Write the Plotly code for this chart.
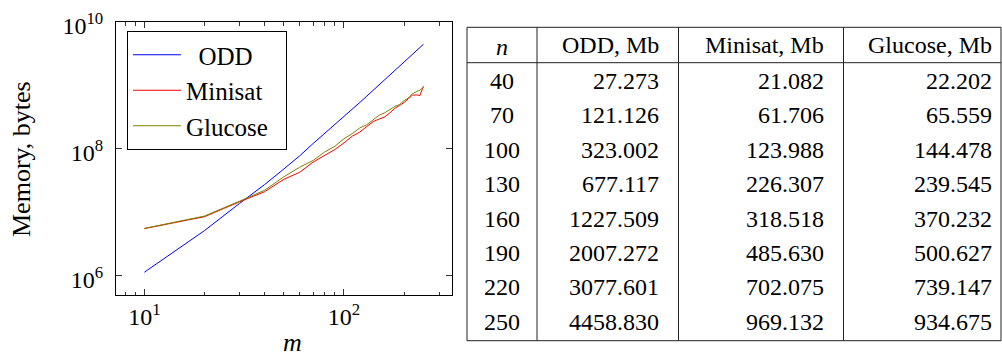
import plotly.graph_objects as go

# ---------------- data ----------------
m_vals = [10, 20, 30, 40, 50, 60, 70, 80, 90, 100, 110, 120, 130,
          140, 150, 160, 170, 180, 190, 200, 210, 220, 230, 240, 250]

odd_bytes = [1.132e6, 5.13e6, 1.38e7, 2.7273e7, 4.82e7, 7.76e7, 1.21126e8,
             1.742e8, 2.404e8, 3.23002e8, 4.217e8, 5.383e8, 6.77117e8,
             8.375e8, 1.021e9, 1.227509e9, 1.459e9, 1.718e9, 2.007272e9,
             2.328e9, 2.679e9, 3.077601e9, 3.499e9, 3.963e9, 4.45883e9]

minisat_bytes = [5.52e6, 8.51e6, 1.462e7, 2.1082e7, 3.31e7, 4.27e7, 6.1706e7,
                 7.76e7, 9.77e7, 1.23988e8, 1.585e8, 1.841e8, 2.26307e8,
                 2.692e8, 2.951e8, 3.18518e8, 3.715e8, 4.365e8, 4.8563e8,
                 5.37e8, 6.17e8, 7.02075e8, 7.08e8, 6.95e8, 9.69132e8]

glucose_bytes = [5.56e6, 8.71e6, 1.496e7, 2.2202e7, 3.63e7, 5.13e7, 6.5559e7,
                 8.91e7, 1.096e8, 1.44478e8, 1.738e8, 2.138e8, 2.39545e8,
                 2.884e8, 3.388e8, 3.70232e8, 4.169e8, 4.677e8, 5.00627e8,
                 5.754e8, 6.31e8, 7.39147e8, 7.943e8, 8.414e8, 9.34675e8]

x_tickvals = [10, 100]
x_ticktext = ["10<sup>1</sup>", "10<sup>2</sup>"]
x_minor = [8, 9, 20, 30, 40, 50, 60, 70, 80, 90, 200, 300]
y_tickvals = [1e6, 1e8, 1e10]
y_ticktext = ["10<sup>6</sup>", "10<sup>8</sup>", "10<sup>10</sup>"]

table_header = ["<i>n</i>", "ODD, Mb", "Minisat, Mb", "Glucose, Mb"]
table_n = [40, 70, 100, 130, 160, 190, 220, 250]
table_odd = [27.273, 121.126, 323.002, 677.117, 1227.509, 2007.272, 3077.601, 4458.830]
table_minisat = [21.082, 61.706, 123.988, 226.307, 318.518, 485.630, 702.075, 969.132]
table_glucose = [22.202, 65.559, 144.478, 239.545, 370.232, 500.627, 739.147, 934.675]

# ---------------- layout constants (pixels) ----------------
W, H = 1002, 358
FONT = "Liberation Serif, Times New Roman, DejaVu Serif, serif"
def px(x):
    return x / W
def py(y):
    return 1 - y / H

fig = go.Figure()
fig.add_trace(go.Scatter(x=m_vals, y=odd_bytes, mode="lines",
                         name="\u00a0\u00a0ODD", line=dict(color="#0000ff", width=1)))
fig.add_trace(go.Scatter(x=m_vals, y=minisat_bytes, mode="lines",
                         name="Minisat", line=dict(color="#ff0000", width=1)))
fig.add_trace(go.Scatter(x=m_vals, y=glucose_bytes, mode="lines",
                         name="Glucose\u00a0\u00a0", line=dict(color="#808000", width=1)))

axis_common = dict(showline=True, linecolor="black", linewidth=1, mirror="allticks",
                   ticks="inside", tickcolor="#333", tickwidth=1, showgrid=False,
                   zeroline=False, automargin=False,
                   tickfont=dict(family=FONT, size=24, color="black"))

fig.update_xaxes(type="log", range=[0.858, 2.541], domain=[px(116), px(452)],
                 tickmode="array", tickvals=x_tickvals, ticktext=x_ticktext,
                 ticklen=6, ticklabelstandoff=0,
                 minor=dict(tickmode="array", tickvals=x_minor, ticks="inside",
                            ticklen=3.5, tickcolor="#333", tickwidth=1, showgrid=False),
                 **axis_common)
fig.update_yaxes(type="log", range=[5.695, 10.0005], domain=[py(295), py(22)],
                 tickmode="array", tickvals=y_tickvals, ticktext=y_ticktext,
                 ticklen=6, ticklabelstandoff=7, ticklabelshift=4, **axis_common)

annotations = [
    dict(text="<i>m</i>", x=px(292), y=0, xref="paper", yref="paper",
         showarrow=False, xanchor="center", yanchor="bottom", borderpad=0,
         font=dict(family=FONT, size=26, color="black")),
    dict(text="Memory, bytes", x=px(22), y=py(159), xref="paper", yref="paper",
         showarrow=False, xanchor="center", yanchor="middle", textangle=-90,
         font=dict(family=FONT, size=26, color="black")),
]

# ---------------- table ----------------
t_left, t_right = 467, 1001
t_seps = [537, 678.5, 843.5]
t_top, t_head, t_bot = 27.3, 62.7, 340.7
head_y = 45
row0_y, row_h = 81, 34.4
col_right = [None, 661, 826, 993.5]
col0_center = (t_left + t_seps[0]) / 2
tfont = dict(family=FONT, size=24, color="black")

for j, htxt in enumerate(table_header):
    if j == 0:
        annotations.append(dict(text=htxt, x=px(col0_center), y=py(head_y + 2), xref="paper",
                                yref="paper", showarrow=False, xanchor="center",
                                yanchor="middle", font=tfont))
    else:
        annotations.append(dict(text=htxt, x=px(col_right[j]), y=py(head_y), xref="paper",
                                yref="paper", showarrow=False, xanchor="right",
                                yanchor="middle", font=tfont))

columns = [table_n, table_odd, table_minisat, table_glucose]
for j, col in enumerate(columns):
    for i, v in enumerate(col):
        yy = py(row0_y + row_h * i)
        if j == 0:
            annotations.append(dict(text=str(v), x=px(col0_center), y=yy, xref="paper",
                                    yref="paper", showarrow=False, xanchor="center",
                                    yanchor="middle", font=tfont))
        else:
            annotations.append(dict(text=f"{v:.3f}", x=px(col_right[j]), y=yy, xref="paper",
                                    yref="paper", showarrow=False, xanchor="right",
                                    yanchor="middle", font=tfont))

shapes = []
line_style = dict(color="#222", width=1)
for yy in [t_top, t_head, t_bot]:
    shapes.append(dict(type="line", xref="paper", yref="paper", x0=px(t_left), x1=px(t_right),
                       y0=py(yy), y1=py(yy), line=line_style))
for xx in [t_left] + t_seps + [t_right]:
    shapes.append(dict(type="line", xref="paper", yref="paper", x0=px(xx), x1=px(xx),
                       y0=py(t_top), y1=py(t_bot), line=line_style))

fig.update_layout(
    width=W, height=H, margin=dict(l=0, r=0, t=0, b=0, autoexpand=False),
    paper_bgcolor="white", plot_bgcolor="white",
    font=dict(family=FONT, size=24, color="black"),
    showlegend=True,
    legend=dict(x=px(127), y=py(31), xanchor="left", yanchor="top",
                bgcolor="white", bordercolor="black", borderwidth=1,
                font=dict(family=FONT, size=25, color="black"),
                itemwidth=48, tracegroupgap=0),
    annotations=annotations, shapes=shapes,
)

fig.write_html("out.html")
